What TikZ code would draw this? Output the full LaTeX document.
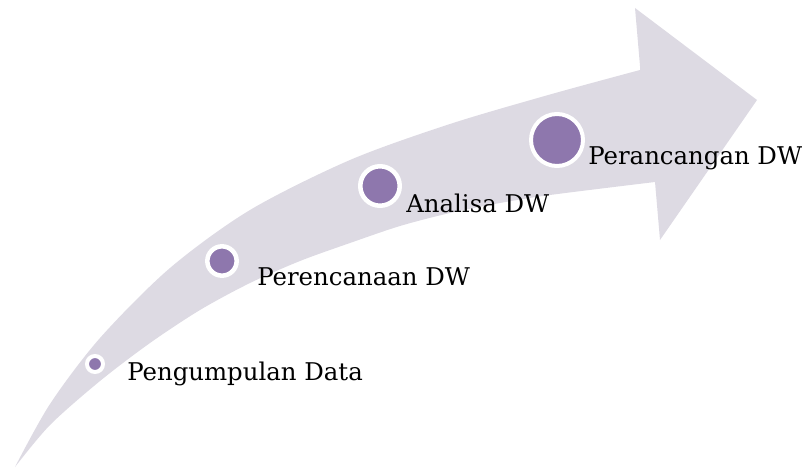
\documentclass[tikz,border=0pt]{standalone}
\usepackage{fontspec}
\setmainfont{DejaVu Serif}
\definecolor{bandfill}{HTML}{DDDAE3}
\definecolor{dotfill}{HTML}{8E77AD}
\begin{document}
\begin{tikzpicture}[x=0.75pt,y=-0.75pt,
  dot/.style={circle,draw=white,fill=dotfill,inner sep=0pt},
  lbl/.style={anchor=base west,inner sep=0pt,font=\fontsize{18.3pt}{20pt}\selectfont,text=black}]
\useasboundingbox (0,0) rectangle (805,470);
\fill[bandfill] plot[smooth,tension=0.5] coordinates {(15,467) (50,404) (100,338) (170,268) (250,210) (350,160) (450,124) (550,94.5) (640,70)}
  -- (640,66) -- (635,8) -- (757,100) -- (660,240) -- (655,182)
  -- plot[smooth,tension=0.5] coordinates {(655,182) (550,195) (500,203) (450,213) (400,226) (350,243) (300,261) (250,283) (200,310) (150,343) (100,381) (50,425) (15,467)} -- cycle;
\node[dot,minimum size=12pt,line width=3pt] (c1) at (95,364) {};
\node[dot,minimum size=22pt,line width=3.4pt] (c2) at (222,261) {};
\node[dot,minimum size=29.6pt,line width=3.4pt] (c3) at (380,186) {};
\node[dot,minimum size=39pt,line width=3pt] (c4) at (557,140) {};
\node[lbl] (t1) at (127,380) {Pengumpulan Data};
\node[lbl] (t2) at (257,285) {Perencanaan DW};
\node[lbl] (t3) at (406,212) {Analisa DW};
\node[lbl] (t4) at (588,165) {Perancangan DW};
\end{tikzpicture}
\end{document}
